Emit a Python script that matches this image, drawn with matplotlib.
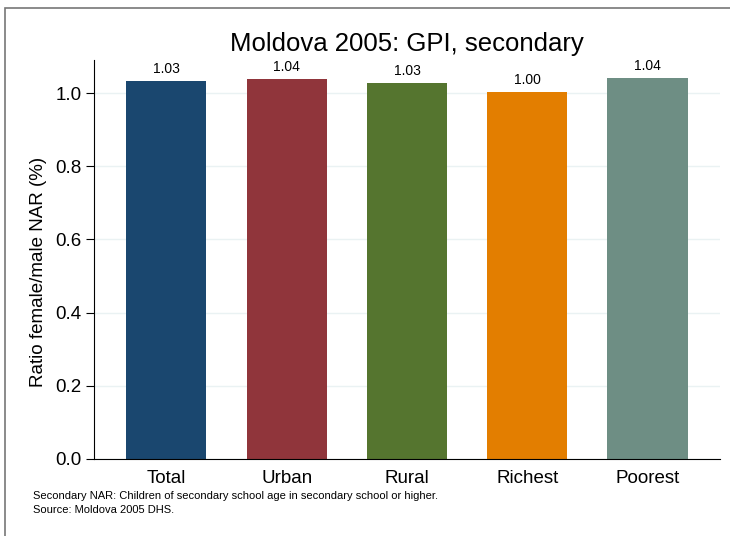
import matplotlib.pyplot as plt
from matplotlib.patches import Rectangle

# data
groups = ['Total', 'Urban', 'Rural', 'Richest', 'Poorest']
gpi = [1.033, 1.038, 1.027, 1.003, 1.041]
labels = ['1.03', '1.04', '1.03', '1.00', '1.04']
colors = ['#1a476f', '#90353b', '#55752f', '#e37e00', '#6e8e84']

plt.rcParams['font.family'] = ['Liberation Sans', 'DejaVu Sans']

fig = plt.figure(figsize=(7.3, 5.36), dpi=100)
ax = fig.add_axes([0.129, 0.1437, 0.857, 0.744])

x = range(len(groups))
ax.bar(x, gpi, width=0.667, color=colors, zorder=2)
for xi, v, t in zip(x, gpi, labels):
    ax.text(xi, v + 0.015, t, ha='center', va='bottom', fontsize=10)

ax.set_xlim(-0.6, 4.6)
ax.set_ylim(0, 1.09)
ax.set_yticks([0.0, 0.2, 0.4, 0.6, 0.8, 1.0])
ax.set_yticklabels(['0.0', '0.2', '0.4', '0.6', '0.8', '1.0'])
ax.set_xticks(list(x))
ax.set_xticklabels(groups)
ax.tick_params(axis='x', length=0, labelsize=13.5, pad=8)
ax.tick_params(axis='y', length=6, labelsize=13.5, width=0.8, pad=3)
ax.yaxis.grid(True, color='#eaf2f3', linewidth=1, zorder=0)
ax.set_axisbelow(True)
for s in ['top', 'right']:
    ax.spines[s].set_visible(False)
ax.spines['left'].set_linewidth(0.8)
ax.spines['bottom'].set_linewidth(0.8)
ax.set_ylabel('Ratio female/male NAR (%)', fontsize=13.5)
ax.yaxis.set_label_coords(-0.076, 0.469)

fig.text(0.557, 0.918, 'Moldova 2005: GPI, secondary', ha='center', va='center', fontsize=18.5)
fig.text(0.045, 0.0746, 'Secondary NAR: Children of secondary school age in secondary school or higher.',
         fontsize=8, va='center')
fig.text(0.045, 0.0485, 'Source: Moldova 2005 DHS.', fontsize=8, va='center')

# outer frame
fig.patches.append(Rectangle((0.007, -0.01), 1.0, 0.995, transform=fig.transFigure,
                             fill=False, edgecolor='#777777', linewidth=1.2))

fig.savefig('out.png', dpi=100)
